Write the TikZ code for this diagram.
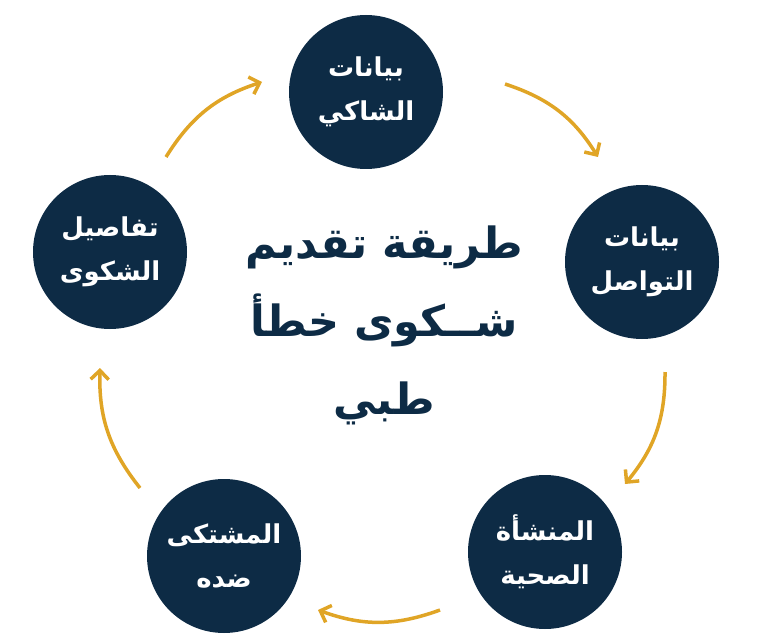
\documentclass[tikz,border=0pt]{standalone}
\usepackage{fontspec}
\newfontfamily\arabicfont[Script=Arabic]{DejaVu Sans}
\TeXXeTstate=1
\usetikzlibrary{arrows.meta}
\definecolor{navy}{HTML}{0D2B45}
\definecolor{gold}{HTML}{E0A526}
\tikzset{
  stage/.style={circle,fill=navy,minimum size=154pt,inner sep=0pt,text=white,
    align=center,font=\arabicfont\bfseries\fontsize{26}{44}\selectfont},
  arr/.style={draw=gold,line width=3.5pt,-{Straight Barb[length=9pt,width=18pt]}}
}
\begin{document}
\begin{tikzpicture}[x=1pt,y=-1pt]
  \useasboundingbox (0,0) rectangle (768,644);
  \node[stage] (shaki) at (366,92) {\beginR بيانات\endR\\\beginR الشاكي\endR};
  \node[stage] (tawasul) at (642,262) {\beginR بيانات\endR\\\beginR التواصل\endR};
  \node[stage] (munshaa) at (545,552) {\beginR المنشأة\endR\\\beginR الصحية\endR};
  \node[stage] (mushtaka) at (224,556) {\beginR المشتكى\endR\\\beginR ضده\endR};
  \node[stage] (tafasil) at (110,252) {\beginR تفاصيل\endR\\\beginR الشكوى\endR};
  \node[text=navy,align=center,font=\arabicfont\bfseries\fontsize{43}{78}\selectfont] (title) at (384,325)
    {\beginR طريقة تقديم\endR\\\beginR شــكوى خطأ\endR\\\beginR طبي\endR};
  % arrows between stages
  \coordinate (s1) at (505,84);  \coordinate (e1) at (598,157);
  \coordinate (s2) at (665,372); \coordinate (e2) at (625,484);
  \coordinate (s3) at (440,610); \coordinate (e3) at (318,610);
  \coordinate (s4) at (140,488); \coordinate (e4) at (100,368);
  \coordinate (s5) at (166,157); \coordinate (e5) at (262,82);
  \draw[arr] (s1) to[bend left=20] (e1);
  \draw[arr] (s2) to[bend left=20] (e2);
  \draw[arr] (s3) to[bend left=20] (e3);
  \draw[arr] (s4) to[bend left=20] (e4);
  \draw[arr] (s5) to[bend left=20] (e5);
\end{tikzpicture}
\end{document}
